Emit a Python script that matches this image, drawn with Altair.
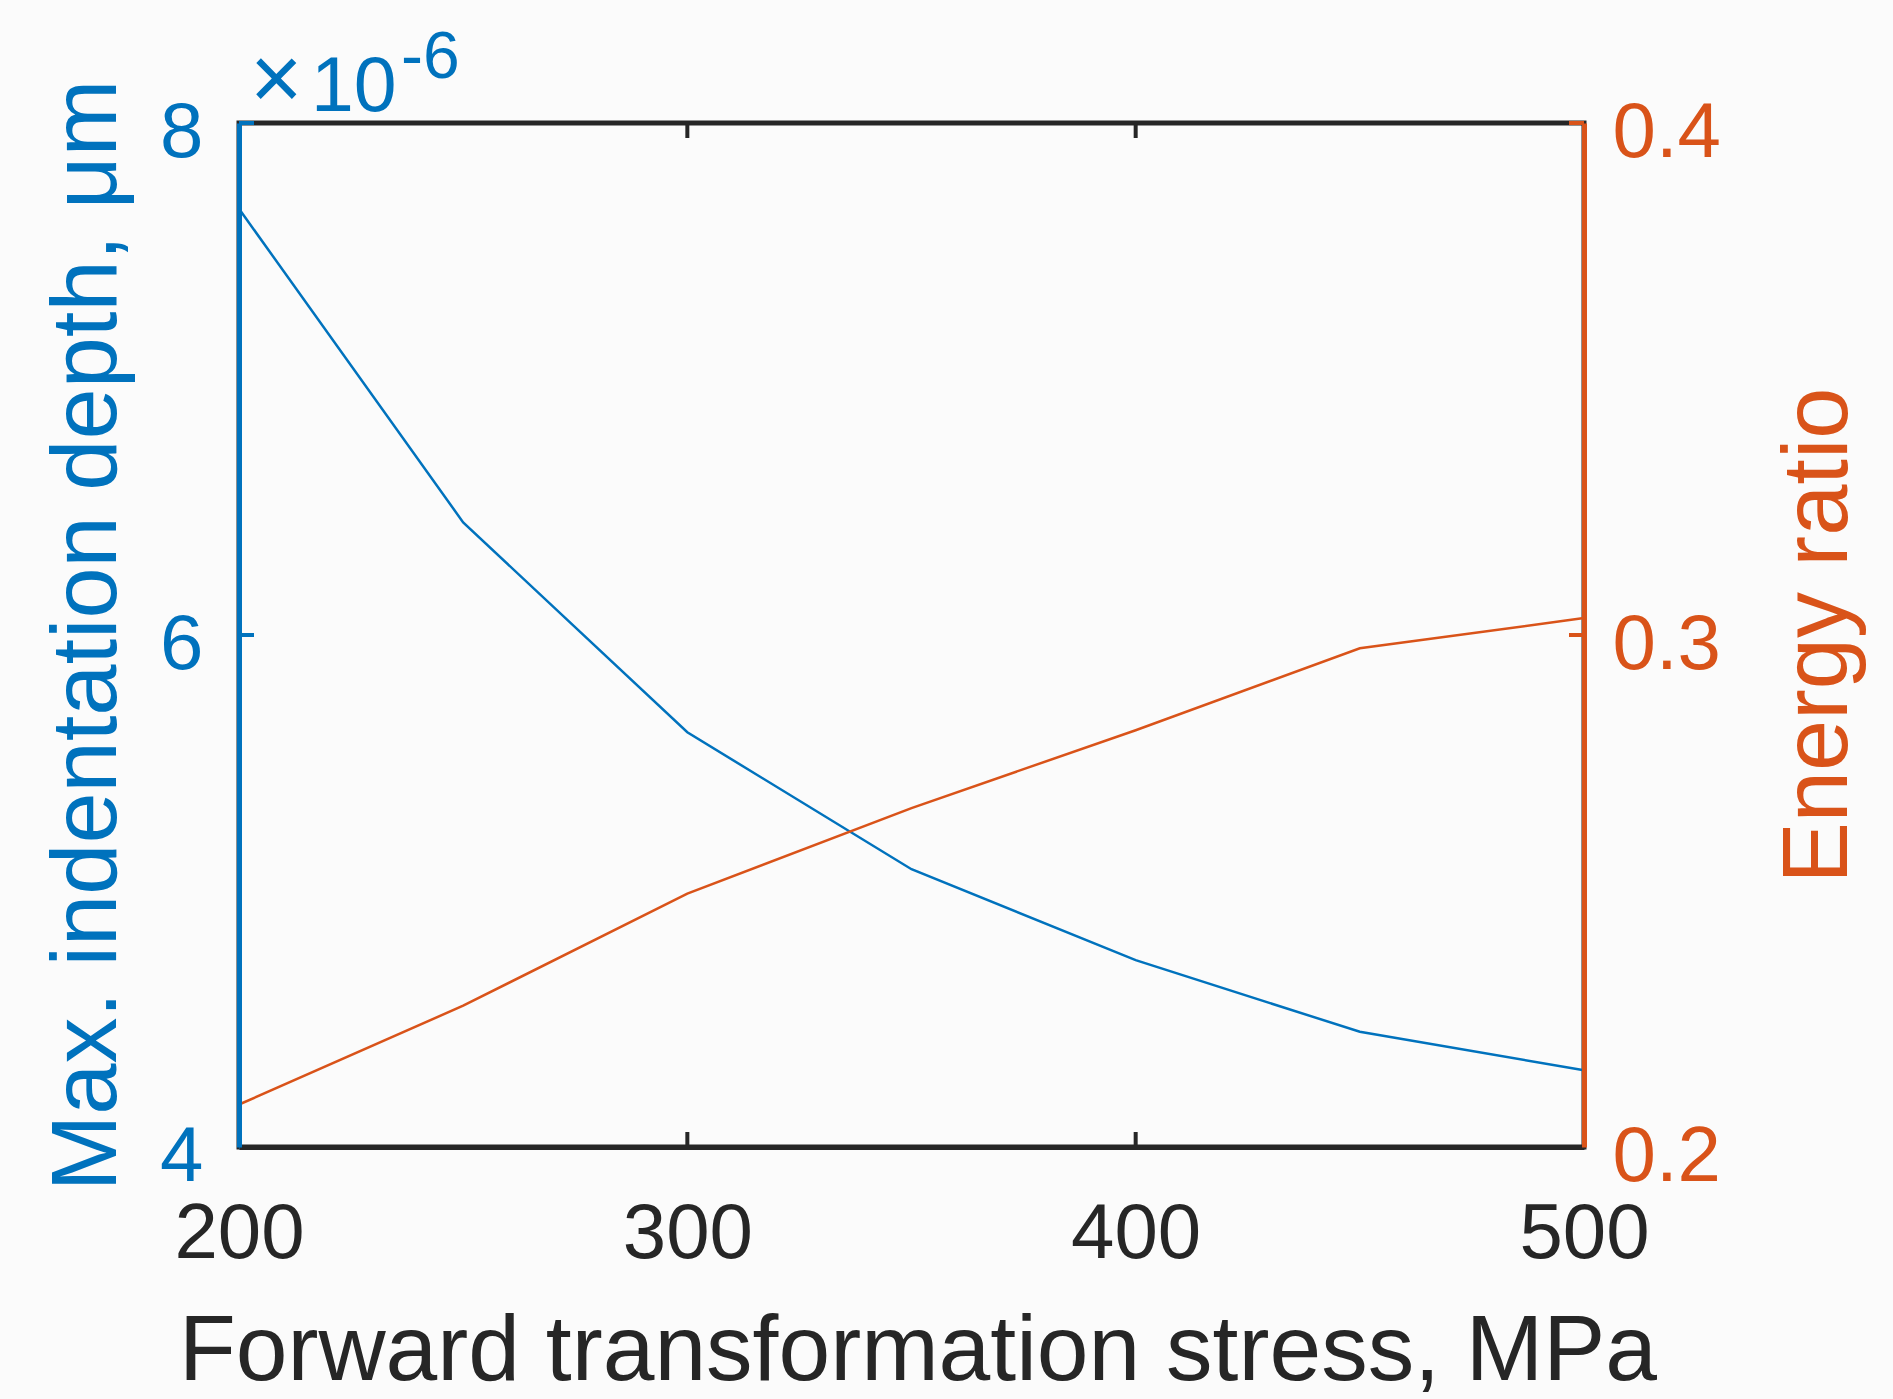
import altair as alt
import pandas as pd

# ---- data ----
stress = [200, 250, 300, 350, 400, 450, 500]
depth = [7.665, 6.44, 5.62, 5.085, 4.73, 4.45, 4.30]          # x 1e-6
energy = [0.2083, 0.2276, 0.2495, 0.2662, 0.2814, 0.2974, 0.3033]

x_ticks = [200, 300, 400, 500]
left_ticks = [4, 6, 8]
right_ticks = [0.2, 0.3, 0.4]

x_title = "Forward transformation stress, MPa"
left_title = "Max. indentation depth, μm"
right_title = "Energy ratio"
exp_times = ["×"]
exp_base = ["10"]
exp_power = ["-6"]

# ---- style ----
BLUE = "#0072BD"
ORANGE = "#D95319"
DARK = "#262626"
FONT = "Liberation Sans"
W, H = 1345, 1024
TICK_LEN = 15
AXW = 5
LBL = 78

df = pd.DataFrame({"stress": stress, "depth": depth, "energy": energy})
xt = pd.DataFrame({"v": x_ticks})
lt = pd.DataFrame({"v": left_ticks})
rt = pd.DataFrame({"v": right_ticks})


def xs():
    return alt.Scale(domain=[200, 500], nice=False, zero=False)


def ls():
    return alt.Scale(domain=[4, 8], nice=False, zero=False)


def rs():
    return alt.Scale(domain=[0.2, 0.4], nice=False, zero=False)


def x_axis():
    return alt.Axis(
        orient="bottom", values=x_ticks, format="d", ticks=False, grid=False,
        labelPadding=48, labelFontSize=LBL, labelFont=FONT, labelColor=DARK,
        labelFlush=False, labelOverlap=False,
        domainColor=DARK, domainWidth=AXW, zindex=1,
        title=x_title, titleFont=FONT, titleFontSize=93, titleFontWeight="normal",
        titleColor=DARK, titleBaseline="alphabetic", titleAlign="center",
        titleX=W / 2 + 6, titleY=232,
    )


left_axis = alt.Axis(
    orient="left", values=left_ticks, format="d", ticks=False, grid=False,
    labelPadding=36, labelFontSize=LBL, labelFont=FONT, labelColor=BLUE,
    labelFlush=False, labelOverlap=False, labelOffset=10,
    domainColor=BLUE, domainWidth=AXW, zindex=1,
    title=left_title, titleFont=FONT, titleFontSize=92, titleFontWeight="normal",
    titleColor=BLUE, titleAngle=270, titleBaseline="alphabetic", titleAlign="center",
    titleX=-124, titleY=H / 2,
)
right_axis = alt.Axis(
    orient="right", values=right_ticks, format=".1f", ticks=False, grid=False,
    labelPadding=28, labelFontSize=LBL, labelFont=FONT, labelColor=ORANGE,
    labelFlush=False, labelOverlap=False, labelOffset=10,
    domainColor=ORANGE, domainWidth=AXW, zindex=1,
    title=right_title, titleFont=FONT, titleFontSize=92, titleFontWeight="normal",
    titleColor=ORANGE, titleAngle=270, titleBaseline="alphabetic", titleAlign="center",
    titleX=262, titleY=H / 2,
)

blue_line = alt.Chart(df).mark_line(color=BLUE, strokeWidth=2.5).encode(
    x=alt.X("stress:Q", scale=xs(), axis=x_axis()),
    y=alt.Y("depth:Q", scale=ls(), axis=left_axis),
)
orange_line = alt.Chart(df).mark_line(color=ORANGE, strokeWidth=2.5).encode(
    x=alt.X("stress:Q", scale=xs(), axis=x_axis()),
    y=alt.Y("energy:Q", scale=rs(), axis=right_axis),
)
left_tick_marks = alt.Chart(lt).mark_rule(color=BLUE, strokeWidth=4).encode(
    y=alt.Y("v:Q", scale=ls(), axis=None),
    x=alt.value(0), x2=alt.value(TICK_LEN),
)
right_tick_marks = alt.Chart(rt).mark_rule(color=ORANGE, strokeWidth=4).encode(
    y=alt.Y("v:Q", scale=rs(), axis=None),
    x=alt.value(W - TICK_LEN), x2=alt.value(W),
)
bottom_ticks = alt.Chart(xt).mark_rule(color=DARK, strokeWidth=4).encode(
    x=alt.X("v:Q", scale=xs(), axis=x_axis()),
    y=alt.value(H), y2=alt.value(H - TICK_LEN),
)
top_ticks = alt.Chart(xt).mark_rule(color=DARK, strokeWidth=4).encode(
    x=alt.X("v:Q", scale=xs(), axis=x_axis()),
    y=alt.value(0), y2=alt.value(TICK_LEN),
)
times_text = alt.Chart(pd.DataFrame({"t": exp_times})).mark_text(
    color=BLUE, font=FONT, fontSize=90, align="left", baseline="alphabetic"
).encode(text="t:N", x=alt.value(11), y=alt.value(-14))
base_text = alt.Chart(pd.DataFrame({"t": exp_base})).mark_text(
    color=BLUE, font=FONT, fontSize=77, align="left", baseline="alphabetic"
).encode(text="t:N", x=alt.value(72), y=alt.value(-12))
pow_text = alt.Chart(pd.DataFrame({"t": exp_power})).mark_text(
    color=BLUE, font=FONT, fontSize=66, align="left", baseline="alphabetic"
).encode(text="t:N", x=alt.value(162), y=alt.value(-45))

chart = (
    alt.layer(blue_line, orange_line, bottom_ticks, top_ticks,
              left_tick_marks, right_tick_marks, times_text, base_text, pow_text)
    .resolve_scale(y="independent")
    .properties(
        width=W, height=H,
        autosize=alt.AutoSizeParams(type="none"),
        padding={"left": 239, "top": 123, "right": 1893 - 239 - W, "bottom": 1399 - 123 - H},
        background="#FBFBFB",
    )
    .configure_view(stroke=DARK, strokeWidth=AXW)
)

chart.save("out.html", embed_options={"renderer": "svg", "actions": False})
